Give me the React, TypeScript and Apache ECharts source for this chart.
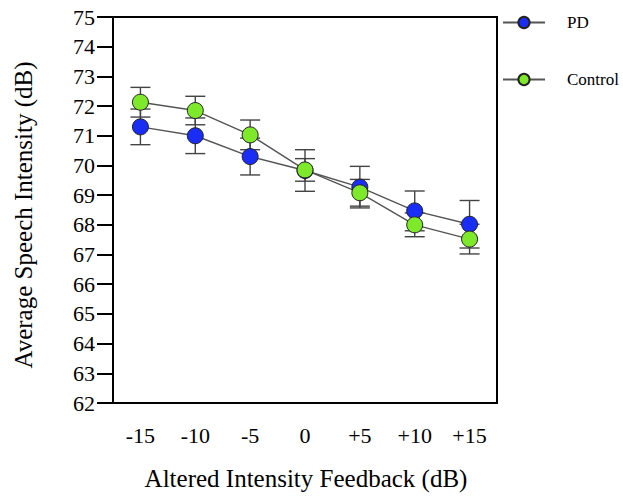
import React, { useEffect, useRef } from "react";
import * as echarts from "echarts";

const categories = ["-15", "-10", "-5", "0", "+5", "+10", "+15"];
const pdMean = [71.3, 71.0, 70.3, 69.83, 69.27, 68.47, 68.02];
const pdErr = [0.6, 0.6, 0.62, 0.7, 0.7, 0.67, 0.8];
const ctrlMean = [72.13, 71.85, 71.03, 69.85, 69.08, 68.0, 67.52];
const ctrlErr = [0.5, 0.48, 0.5, 0.38, 0.45, 0.4, 0.5];
const yTicks = { min: 62, max: 75, interval: 1 };

const FONT = "Liberation Serif";

function errData(mean: number[], err: number[]) {
  return mean.map((m, i) => [i, m - err[i], m + err[i]]);
}

function renderErr(params: any, api: any) {
  const x = api.value(0);
  const lo = api.coord([x, api.value(1)]);
  const hi = api.coord([x, api.value(2)]);
  const hw = 10;
  const style = { stroke: "#444", lineWidth: 1.4, fill: "none" };
  return {
    type: "group",
    children: [
      { type: "line", shape: { x1: lo[0], y1: lo[1], x2: hi[0], y2: hi[1] }, style },
      { type: "line", shape: { x1: lo[0] - hw, y1: lo[1], x2: lo[0] + hw, y2: lo[1] }, style },
      { type: "line", shape: { x1: hi[0] - hw, y1: hi[1], x2: hi[0] + hw, y2: hi[1] }, style },
    ],
  };
}

export default function App() {
  const ref = useRef<HTMLDivElement>(null);
  useEffect(() => {
    if (!ref.current) return;
    const chart = echarts.init(ref.current, null, { renderer: "svg" });
    chart.setOption({
      animation: false,
      backgroundColor: "#fff",
      textStyle: { fontFamily: FONT },
      grid: {
        left: 113,
        top: 17,
        right: 126,
        bottom: 94,
        show: true,
        borderColor: "#000",
        borderWidth: 2,
        backgroundColor: "transparent",
      },
      legend: {
        orient: "vertical",
        left: 502,
        top: 14,
        padding: 0,
        itemWidth: 42,
        itemHeight: 14,
        itemGap: 40,
        textStyle: { fontFamily: FONT, fontSize: 17, color: "#000", padding: [0, 0, 0, 17] },
        data: ["PD", "Control"],
      },
      xAxis: {
        type: "category",
        data: categories,
        boundaryGap: true,
        axisLine: { lineStyle: { color: "#000", width: 2 } },
        axisTick: { alignWithLabel: true, length: 14, lineStyle: { color: "#000", width: 2 } },
        axisLabel: { color: "#000", fontFamily: FONT, fontSize: 22, margin: 21 },
        splitLine: { show: false },
      },
      yAxis: {
        type: "value",
        min: yTicks.min,
        max: yTicks.max,
        interval: yTicks.interval,
        axisLine: { show: true, lineStyle: { color: "#000", width: 2 } },
        axisTick: { show: true, length: 16, lineStyle: { color: "#000", width: 2 } },
        axisLabel: { color: "#000", fontFamily: FONT, fontSize: 22, margin: 18 },
        splitLine: { show: false },
      },
      graphic: [
        {
          type: "text",
          x: 306,
          y: 478,
          style: {
            text: "Altered Intensity Feedback (dB)",
            font: `25px "${FONT}"`,
            fill: "#000",
            align: "center",
            verticalAlign: "middle",
          },
        },
        {
          type: "text",
          x: 23,
          y: 215,
          rotation: Math.PI / 2,
          style: {
            text: "Average Speech Intensity (dB)",
            font: `25px "${FONT}"`,
            fill: "#000",
            align: "center",
            verticalAlign: "middle",
          },
        },
      ],
      series: [
        {
          type: "custom",
          name: "pdErr",
          renderItem: renderErr,
          data: errData(pdMean, pdErr),
          z: 1,
          encode: { x: 0, y: [1, 2] },
        },
        {
          type: "custom",
          name: "ctrlErr",
          renderItem: renderErr,
          data: errData(ctrlMean, ctrlErr),
          z: 1,
          encode: { x: 0, y: [1, 2] },
        },
        {
          type: "line",
          name: "PD",
          data: pdMean,
          symbol: "circle",
          symbolSize: 16,
          z: 3,
          lineStyle: { color: "#555", width: 1.4 },
          itemStyle: { color: "#1a2df5", borderColor: "#222", borderWidth: 1 },
        },
        {
          type: "line",
          name: "Control",
          data: ctrlMean,
          symbol: "circle",
          symbolSize: 16,
          z: 3,
          lineStyle: { color: "#555", width: 1.4 },
          itemStyle: { color: "#7ee82a", borderColor: "#222", borderWidth: 1 },
        },
      ],
    });
    return () => chart.dispose();
  }, []);
  return (
    <div
      ref={ref}
      style={{ position: "absolute", left: 0, top: 0, width: 623, height: 497 }}
    />
  );
}
